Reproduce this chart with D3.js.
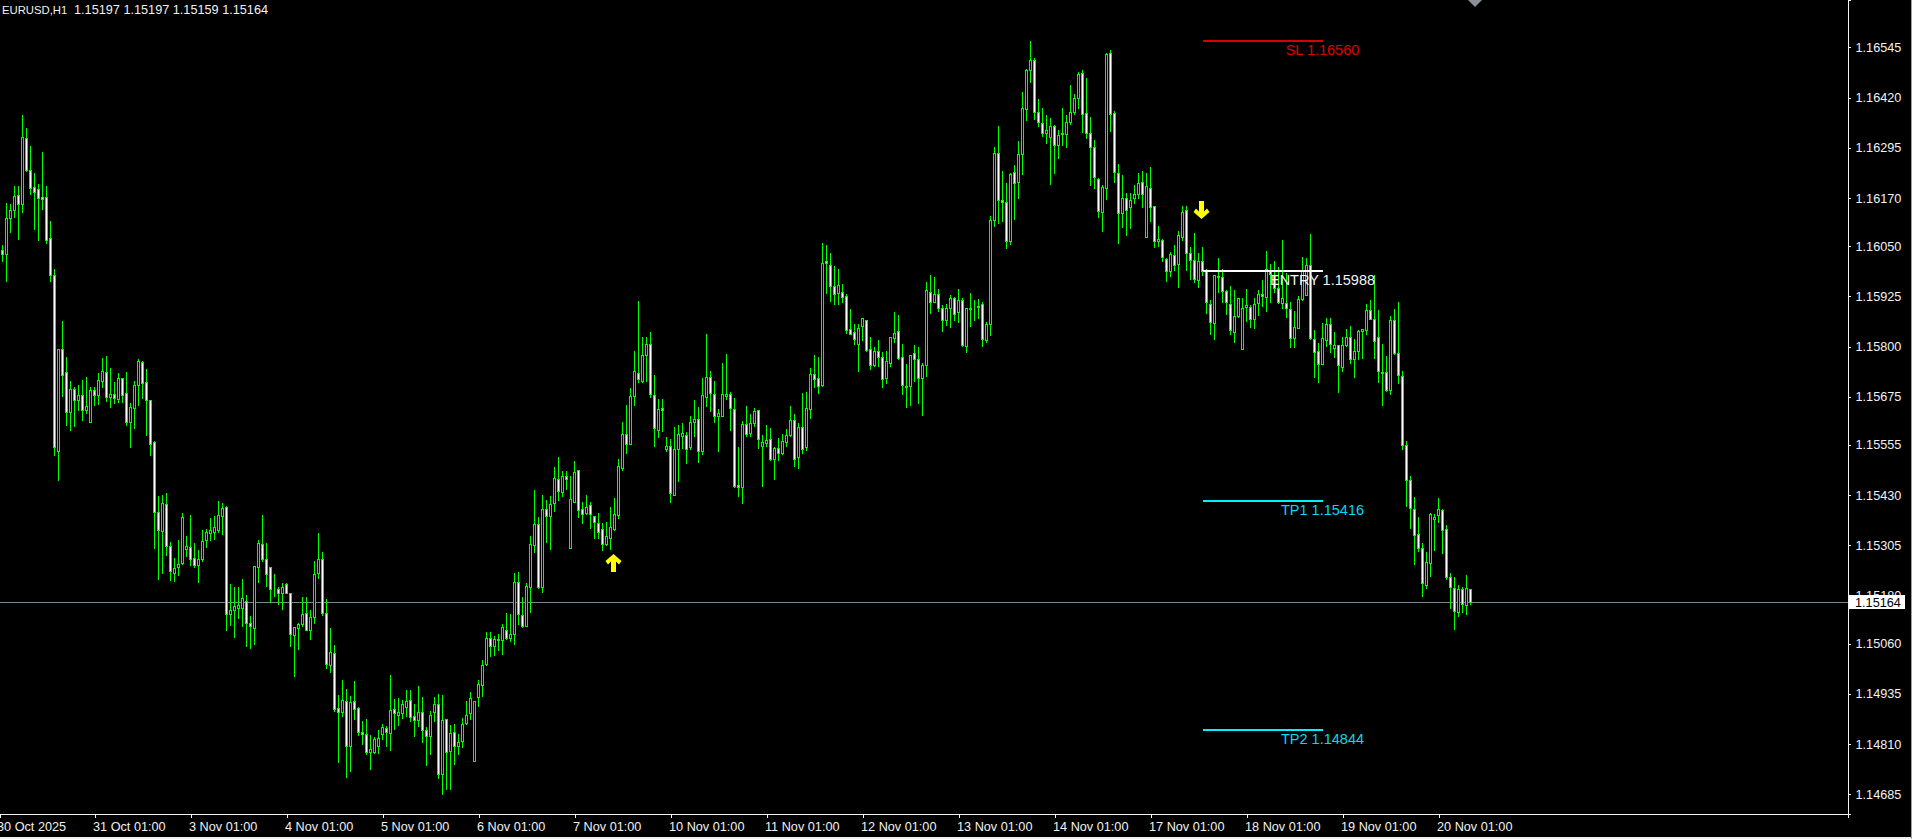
<!DOCTYPE html>
<html>
<head>
<meta charset="utf-8">
<title>EURUSD,H1</title>
<script src="https://cdn.jsdelivr.net/npm/d3@7/dist/d3.min.js"></script>
<style>
	html, body { margin: 0; padding: 0; background: #000; overflow: hidden; }
	svg { display: block; }
	text { font-family: "Liberation Sans", Arial, sans-serif; }
	.axis text { fill: #f2f2f2; font-size: 12.7px; }
	.axis path, .axis line { stroke: #f2f2f2; shape-rendering: crispEdges; }
</style>
</head>
<body>
<svg id="chart" width="1912" height="839"></svg>
<script>
const opens = [
	1.16040,1.16030,1.16121,1.16139,1.16177,1.16156,1.16319,1.16239,1.16197,1.16192,
	1.16172,1.16172,1.16070,1.15977,1.15541,1.15793,1.15736,1.15638,1.15694,1.15666,
	1.15679,1.15643,1.15613,1.15691,1.15680,1.15715,1.15736,1.15675,1.15681,1.15670,
	1.15721,1.15684,1.15612,1.15647,1.15705,1.15761,1.15711,1.15666,1.15562,1.15387,
	1.15340,1.15407,1.15303,1.15237,1.15250,1.15260,1.15295,1.15300,1.15273,1.15257,
	1.15272,1.15319,1.15336,1.15339,1.15343,1.15377,1.15400,1.15133,1.15145,1.15150,
	1.15149,1.15166,1.15111,1.15100,1.15250,1.15308,1.15272,1.15250,1.15195,1.15196,
	1.15187,1.15208,1.15186,1.15081,1.15098,1.15110,1.15136,1.15093,1.15127,1.15235,
	1.15270,1.15137,1.15008,1.15036,1.14899,1.14891,1.14917,1.14805,1.14917,1.14900,
	1.14839,1.14836,1.14791,1.14791,1.14806,1.14836,1.14849,1.14837,1.14897,1.14883,
	1.14888,1.14903,1.14919,1.14879,1.14869,1.14889,1.14844,1.14831,1.14889,1.14909,
	1.14735,1.14872,1.14792,1.14839,1.14805,1.14817,1.14862,1.14887,1.14767,1.14928,
	1.14957,1.15009,1.15074,1.15053,1.15070,1.15069,1.15095,1.15073,1.15084,1.15213,
	1.15132,1.15103,1.15201,1.15305,1.15357,1.15201,1.15395,1.15377,1.15410,1.15470,
	1.15438,1.15478,1.15297,1.15412,1.15493,1.15395,1.15385,1.15405,1.15378,1.15360,
	1.15345,1.15307,1.15324,1.15345,1.15381,1.15498,1.15582,1.15558,1.15676,1.15734,
	1.15715,1.15778,1.15806,1.15679,1.15591,1.15646,1.15546,1.15552,1.15431,1.15546,
	1.15578,1.15579,1.15549,1.15611,1.15619,1.15540,1.15674,1.15724,1.15681,1.15626,
	1.15628,1.15678,1.15681,1.15644,1.15455,1.15451,1.15607,1.15584,1.15610,1.15641,
	1.15553,1.15560,1.15569,1.15521,1.15547,1.15534,1.15563,1.15580,1.15617,1.15524,
	1.15599,1.15550,1.15645,1.15731,1.15721,1.15704,1.16012,1.16004,1.15950,1.15934,
	1.15935,1.15925,1.15843,1.15835,1.15807,1.15852,1.15865,1.15793,1.15754,1.15789,
	1.15773,1.15721,1.15760,1.15822,1.15838,1.15773,1.15700,1.15702,1.15783,1.15770,
	1.15721,1.15755,1.15937,1.15911,1.15932,1.15895,1.15865,1.15897,1.15920,1.15887,
	1.15917,1.15802,1.15894,1.15896,1.15899,1.15905,1.15816,1.15855,1.16114,1.16281,
	1.16166,1.16159,1.16064,1.16234,1.16209,1.16279,1.16391,1.16488,1.16513,1.16383,
	1.16356,1.16331,1.16321,1.16348,1.16301,1.16333,1.16330,1.16358,1.16383,1.16418,
	1.16480,1.16381,1.16331,1.16296,1.16216,1.16134,1.16196,1.16530,1.16381,1.16231,
	1.16132,1.16169,1.16147,1.16171,1.16181,1.16209,1.16072,1.16196,1.16149,1.16064,
	1.16065,1.16018,1.15987,1.16027,1.16005,1.16073,1.16139,1.16032,1.16015,1.15965,
	1.16012,1.15989,1.15907,1.15858,1.15972,1.15974,1.15939,1.15907,1.15835,1.15876,
	1.15795,1.15899,1.15899,1.15869,1.15908,1.15932,1.15924,1.15990,1.15978,1.15945,
	1.15909,1.15909,1.15893,1.15820,1.15847,1.15919,1.15928,1.16002,1.15818,1.15790,
	1.15757,1.15817,1.15855,1.15797,1.15803,1.15748,1.15803,1.15823,1.15768,1.15788,
	1.15838,1.15842,1.15890,1.15869,1.15823,1.15733,1.15737,1.15691,1.15865,1.15783,
	1.15726,1.15554,1.15467,1.15395,1.15333,1.15298,1.15207,1.15260,1.15370,1.15380,
	1.15392,1.15345,1.15226,1.15198,1.15138,1.15196,1.15156,1.15197
];
const highs = [
	1.16053,1.16157,1.16155,1.16200,1.16200,1.16377,1.16343,1.16299,1.16232,1.16205,
	1.16285,1.16200,1.16113,1.15993,1.15793,1.15864,1.15774,1.15715,1.15700,1.15705,
	1.15717,1.15724,1.15700,1.15700,1.15734,1.15772,1.15777,1.15747,1.15712,1.15734,
	1.15722,1.15737,1.15660,1.15714,1.15769,1.15764,1.15744,1.15667,1.15565,1.15428,
	1.15431,1.15435,1.15314,1.15274,1.15319,1.15386,1.15329,1.15381,1.15311,1.15294,
	1.15343,1.15346,1.15373,1.15378,1.15416,1.15411,1.15402,1.15209,1.15201,1.15201,
	1.15222,1.15182,1.15129,1.15253,1.15318,1.15381,1.15310,1.15250,1.15234,1.15201,
	1.15210,1.15210,1.15186,1.15101,1.15111,1.15176,1.15176,1.15143,1.15266,1.15336,
	1.15289,1.15171,1.15099,1.15057,1.14932,1.14970,1.14947,1.14930,1.14966,1.14902,
	1.14868,1.14873,1.14833,1.14827,1.14845,1.14860,1.14855,1.14982,1.14922,1.14925,
	1.14920,1.14944,1.14945,1.14910,1.14955,1.14927,1.14852,1.14893,1.14927,1.14935,
	1.14932,1.14873,1.14858,1.14860,1.14835,1.14875,1.14918,1.14940,1.14918,1.14969,
	1.15020,1.15089,1.15089,1.15079,1.15084,1.15109,1.15137,1.15134,1.15235,1.15239,
	1.15176,1.15211,1.15328,1.15443,1.15375,1.15431,1.15418,1.15428,1.15500,1.15525,
	1.15490,1.15490,1.15478,1.15515,1.15493,1.15413,1.15431,1.15413,1.15378,1.15386,
	1.15361,1.15363,1.15401,1.15423,1.15520,1.15612,1.15655,1.15697,1.15789,1.15914,
	1.15824,1.15824,1.15837,1.15729,1.15669,1.15669,1.15575,1.15570,1.15600,1.15605,
	1.15609,1.15587,1.15627,1.15667,1.15650,1.15722,1.15831,1.15739,1.15714,1.15645,
	1.15759,1.15782,1.15687,1.15672,1.15550,1.15615,1.15652,1.15632,1.15647,1.15641,
	1.15580,1.15605,1.15597,1.15549,1.15573,1.15583,1.15595,1.15652,1.15632,1.15609,
	1.15683,1.15687,1.15746,1.15778,1.15774,1.16057,1.16053,1.16033,1.16000,1.15993,
	1.15955,1.15930,1.15893,1.15856,1.15856,1.15872,1.15867,1.15823,1.15798,1.15816,
	1.15786,1.15789,1.15823,1.15886,1.15878,1.15806,1.15756,1.15780,1.15804,1.15799,
	1.15758,1.15960,1.15978,1.15973,1.15943,1.15903,1.15907,1.15928,1.15923,1.15943,
	1.15920,1.15897,1.15933,1.15916,1.15918,1.15911,1.15860,1.16125,1.16297,1.16349,
	1.16237,1.16207,1.16231,1.16252,1.16312,1.16434,1.16490,1.16561,1.16518,1.16416,
	1.16394,1.16376,1.16369,1.16352,1.16339,1.16394,1.16376,1.16451,1.16430,1.16483,
	1.16488,1.16468,1.16371,1.16314,1.16219,1.16202,1.16531,1.16538,1.16386,1.16254,
	1.16227,1.16182,1.16182,1.16202,1.16232,1.16237,1.16232,1.16247,1.16149,1.16100,
	1.16068,1.16020,1.16035,1.16053,1.16088,1.16149,1.16149,1.16047,1.16083,1.16033,
	1.16047,1.15993,1.15916,1.15977,1.16020,1.15992,1.15941,1.15951,1.15940,1.15921,
	1.15920,1.15943,1.15903,1.15920,1.15941,1.15966,1.16038,1.16005,1.16013,1.15998,
	1.16065,1.15982,1.15911,1.15888,1.15927,1.16023,1.16020,1.16080,1.15841,1.15808,
	1.15859,1.15871,1.15871,1.15836,1.15804,1.15824,1.15844,1.15850,1.15819,1.15841,
	1.15843,1.15907,1.15916,1.15978,1.15891,1.15806,1.15776,1.15876,1.15893,1.15911,
	1.15739,1.15565,1.15478,1.15425,1.15376,1.15310,1.15289,1.15385,1.15383,1.15423,
	1.15395,1.15356,1.15236,1.15227,1.15206,1.15201,1.15231,1.15197
];
const lows = [
	1.16013,1.15962,1.16086,1.16123,1.16069,1.16136,1.16236,1.16181,1.16093,1.16066,
	1.16143,1.16059,1.15962,1.15530,1.15468,1.15677,1.15605,1.15592,1.15602,1.15642,
	1.15617,1.15634,1.15613,1.15655,1.15657,1.15700,1.15665,1.15650,1.15660,1.15662,
	1.15662,1.15605,1.15550,1.15597,1.15655,1.15672,1.15580,1.15530,1.15299,1.15221,
	1.15236,1.15281,1.15219,1.15215,1.15230,1.15259,1.15279,1.15255,1.15252,1.15214,
	1.15266,1.15301,1.15319,1.15321,1.15339,1.15334,1.15094,1.15107,1.15077,1.15124,
	1.15103,1.15055,1.15050,1.15059,1.15214,1.15266,1.15204,1.15164,1.15179,1.15159,
	1.15147,1.15185,1.15054,1.14980,1.15047,1.15103,1.15093,1.15072,1.15111,1.15224,
	1.15132,1.15000,1.14990,1.14892,1.14766,1.14880,1.14728,1.14743,1.14873,1.14833,
	1.14810,1.14786,1.14748,1.14788,1.14788,1.14823,1.14805,1.14795,1.14848,1.14858,
	1.14875,1.14880,1.14868,1.14830,1.14855,1.14815,1.14758,1.14786,1.14868,1.14726,
	1.14686,1.14698,1.14698,1.14761,1.14786,1.14803,1.14860,1.14873,1.14767,1.14905,
	1.14930,1.15008,1.15030,1.15032,1.15044,1.15035,1.15072,1.15066,1.15059,1.15109,
	1.15102,1.15103,1.15139,1.15289,1.15198,1.15189,1.15314,1.15296,1.15391,1.15418,
	1.15428,1.15446,1.15297,1.15412,1.15376,1.15361,1.15383,1.15348,1.15324,1.15324,
	1.15294,1.15306,1.15296,1.15343,1.15373,1.15493,1.15535,1.15558,1.15655,1.15712,
	1.15712,1.15715,1.15675,1.15553,1.15575,1.15590,1.15540,1.15413,1.15431,1.15466,
	1.15548,1.15510,1.15545,1.15578,1.15513,1.15533,1.15652,1.15640,1.15612,1.15540,
	1.15628,1.15670,1.15592,1.15451,1.15428,1.15411,1.15578,1.15578,1.15602,1.15548,
	1.15453,1.15553,1.15518,1.15470,1.15518,1.15533,1.15553,1.15578,1.15503,1.15498,
	1.15534,1.15542,1.15623,1.15700,1.15685,1.15702,1.15934,1.15913,1.15906,1.15906,
	1.15911,1.15833,1.15831,1.15806,1.15739,1.15816,1.15789,1.15744,1.15751,1.15751,
	1.15699,1.15708,1.15751,1.15811,1.15769,1.15682,1.15649,1.15654,1.15714,1.15659,
	1.15629,1.15726,1.15883,1.15911,1.15889,1.15838,1.15853,1.15848,1.15866,1.15861,
	1.15801,1.15786,1.15851,1.15866,1.15872,1.15801,1.15811,1.15828,1.16100,1.16108,
	1.16113,1.16045,1.16055,1.16117,1.16170,1.16230,1.16364,1.16459,1.16366,1.16349,
	1.16324,1.16307,1.16205,1.16232,1.16269,1.16302,1.16297,1.16354,1.16379,1.16394,
	1.16334,1.16319,1.16202,1.16196,1.16122,1.16088,1.16167,1.16337,1.16210,1.16058,
	1.16098,1.16078,1.16095,1.16157,1.16170,1.16147,1.16072,1.16113,1.16048,1.16050,
	1.16013,1.15963,1.15976,1.15990,1.15948,1.16065,1.15990,1.15968,1.15961,1.15948,
	1.15978,1.15883,1.15831,1.15819,1.15936,1.15911,1.15881,1.15831,1.15811,1.15873,
	1.15795,1.15864,1.15849,1.15846,1.15878,1.15901,1.15888,1.15912,1.15937,1.15908,
	1.15896,1.15873,1.15798,1.15799,1.15846,1.15917,1.15928,1.15818,1.15724,1.15712,
	1.15756,1.15801,1.15786,1.15774,1.15687,1.15739,1.15801,1.15759,1.15724,1.15769,
	1.15771,1.15831,1.15868,1.15771,1.15712,1.15654,1.15688,1.15682,1.15781,1.15709,
	1.15544,1.15403,1.15348,1.15259,1.15291,1.15179,1.15199,1.15229,1.15294,1.15363,
	1.15286,1.15221,1.15149,1.15097,1.15129,1.15139,1.15134,1.15159
];
const closes = [
	1.16031,1.16119,1.16139,1.16174,1.16156,1.16321,1.16240,1.16196,1.16184,1.16171,
	1.16167,1.16066,1.15977,1.15551,1.15793,1.15730,1.15636,1.15694,1.15666,1.15679,
	1.15641,1.15651,1.15691,1.15680,1.15716,1.15739,1.15675,1.15681,1.15673,1.15721,
	1.15680,1.15612,1.15649,1.15704,1.15763,1.15710,1.15667,1.15558,1.15389,1.15342,
	1.15410,1.15302,1.15240,1.15248,1.15258,1.15376,1.15303,1.15272,1.15256,1.15270,
	1.15315,1.15338,1.15343,1.15351,1.15380,1.15397,1.15134,1.15144,1.15154,1.15156,
	1.15174,1.15111,1.15103,1.15253,1.15310,1.15272,1.15233,1.15196,1.15196,1.15186,
	1.15200,1.15186,1.15083,1.15101,1.15108,1.15133,1.15095,1.15126,1.15233,1.15270,
	1.15137,1.15010,1.15039,1.14898,1.14891,1.14919,1.14806,1.14914,1.14897,1.14839,
	1.14835,1.14791,1.14797,1.14823,1.14824,1.14852,1.14839,1.14894,1.14887,1.14889,
	1.14909,1.14917,1.14878,1.14869,1.14889,1.14844,1.14831,1.14882,1.14909,1.14735,
	1.14869,1.14790,1.14837,1.14805,1.14815,1.14859,1.14882,1.14924,1.14917,1.14959,
	1.15006,1.15074,1.15054,1.15071,1.15071,1.15101,1.15074,1.15084,1.15213,1.15133,
	1.15104,1.15203,1.15308,1.15357,1.15201,1.15395,1.15378,1.15407,1.15472,1.15439,
	1.15477,1.15470,1.15420,1.15487,1.15393,1.15382,1.15400,1.15382,1.15364,1.15339,
	1.15309,1.15328,1.15350,1.15383,1.15502,1.15582,1.15556,1.15676,1.15739,1.15718,
	1.15778,1.15806,1.15682,1.15597,1.15644,1.15641,1.15552,1.15434,1.15544,1.15582,
	1.15584,1.15546,1.15612,1.15619,1.15539,1.15679,1.15724,1.15683,1.15626,1.15634,
	1.15681,1.15681,1.15646,1.15453,1.15449,1.15607,1.15583,1.15609,1.15639,1.15569,
	1.15562,1.15567,1.15520,1.15547,1.15534,1.15564,1.15579,1.15617,1.15521,1.15599,
	1.15546,1.15648,1.15731,1.15718,1.15702,1.16009,1.16007,1.15950,1.15931,1.15952,
	1.15924,1.15842,1.15832,1.15818,1.15845,1.15870,1.15792,1.15753,1.15790,1.15774,
	1.15720,1.15763,1.15823,1.15833,1.15771,1.15703,1.15701,1.15780,1.15768,1.15721,
	1.15755,1.15940,1.15912,1.15932,1.15895,1.15867,1.15897,1.15920,1.15882,1.15915,
	1.15803,1.15895,1.15896,1.15897,1.15901,1.15819,1.15857,1.16114,1.16283,1.16166,
	1.16159,1.16064,1.16229,1.16206,1.16279,1.16393,1.16488,1.16513,1.16383,1.16358,
	1.16331,1.16338,1.16348,1.16303,1.16328,1.16330,1.16358,1.16383,1.16420,1.16478,
	1.16378,1.16331,1.16298,1.16221,1.16137,1.16197,1.16528,1.16378,1.16234,1.16132,
	1.16169,1.16139,1.16164,1.16179,1.16206,1.16179,1.16201,1.16147,1.16064,1.16068,
	1.16022,1.15987,1.16030,1.16002,1.16077,1.16134,1.16032,1.16015,1.15967,1.16012,
	1.15988,1.15912,1.15860,1.15977,1.15976,1.15938,1.15910,1.15840,1.15877,1.15920,
	1.15895,1.15903,1.15869,1.15907,1.15930,1.15925,1.15994,1.15980,1.15945,1.15910,
	1.15920,1.15895,1.15820,1.15848,1.15919,1.15989,1.16002,1.15820,1.15787,1.15756,
	1.15820,1.15855,1.15807,1.15803,1.15753,1.15803,1.15823,1.15768,1.15788,1.15838,
	1.15843,1.15890,1.15869,1.15813,1.15738,1.15737,1.15691,1.15865,1.15783,1.15728,
	1.15554,1.15467,1.15397,1.15330,1.15298,1.15210,1.15263,1.15383,1.15375,1.15395,
	1.15343,1.15227,1.15201,1.15141,1.15196,1.15158,1.15198,1.15164
];

const priceTicks = [ 1.16545, 1.16420, 1.16295, 1.16170, 1.16050, 1.15925, 1.15800, 1.15675, 1.15555, 1.15430, 1.15305, 1.15180, 1.15060, 1.14935, 1.14810, 1.14685 ];
const timeTickIndex = [ -1, 23, 47, 71, 95, 119, 143, 167, 191, 215, 239, 263, 287, 311, 335, 359 ];
const timeLabels = [ '30 Oct 2025', '31 Oct 01:00', '3 Nov 01:00', '4 Nov 01:00', '5 Nov 01:00', '6 Nov 01:00', '7 Nov 01:00', '10 Nov 01:00', '11 Nov 01:00', '12 Nov 01:00', '13 Nov 01:00', '14 Nov 01:00', '17 Nov 01:00', '18 Nov 01:00', '19 Nov 01:00', '20 Nov 01:00' ];

const levelNames = [ 'SL', 'ENTRY', 'TP1', 'TP2' ];
const levelPrices = [ 1.16560, 1.15988, 1.15416, 1.14844 ];
const levelLineColors = [ '#d80000', '#ffffff', '#00f0ff', '#00f0ff' ];
const levelTextColors = [ '#e00000', '#f4f4f4', '#00dcf0', '#00dcf0' ];
const levelStart = 300;
const levelEnd = 330;

const signalIndex = [ 153, 300 ];
const signalPrices = [ 1.15261, 1.16140 ];
const signalDirection = [ 1, -1 ];

const symbolName = 'EURUSD,H1';
const symbolQuote = '1.15197 1.15197 1.15159 1.15164';
const lastPrice = 1.15164;

const ChartView = {
	width: 1847.5, height: 813.5,
	xScale: null, yScale: null,
	svg: null,

	init: function() {
		const self = this;

		self.svg = d3.select('#chart');
		self.xScale = d3.scaleLinear()
			.domain([ -0.625, 461.25 ])
			.range([ 0, self.width ]);
		self.yScale = d3.scaleLinear()
			.domain([ 1.16663, 1.14637 ])
			.range([ 0, self.height ]);

		self.svg.append('rect')
			.attr('width', 1912)
			.attr('height', 839)
			.style('fill', '#000');
		self.drawFrame();
		self.drawAxes();
		self.drawLastPriceLine();
		self.drawCandles();
		self.drawLevels();
		self.drawSignals();
		self.drawLastPriceLabel();
	},

	// helpers

	snap: function(y) {
		return Math.round(y) + 0.5;
	},

	drawFrame: function() {
		const self = this;

		// window edge of the terminal
		self.svg.append('rect')
			.attr('y', 837)
			.attr('width', 1912)
			.attr('height', 2)
			.style('fill', '#f0f0f0');
		self.svg.append('rect')
			.attr('x', 1911)
			.attr('width', 1)
			.attr('height', 839)
			.style('fill', '#a0a0a0');

		self.svg.append('text')
			.attr('x', 2)
			.attr('y', 14)
			.style('fill', '#f2f2f2')
			.style('font-size', '11.3px')
			.text(symbolName);
		self.svg.append('text')
			.attr('x', 74)
			.attr('y', 14)
			.style('fill', '#f2f2f2')
			.style('font-size', '12.7px')
			.text(symbolQuote);

		// shift marker at the right of the last bar
		let markerX = Math.round(self.xScale(368));
		self.svg.append('path')
			.attr('d', 'M' + (markerX - 7) + ',0L' + (markerX + 7) + ',0L' + markerX + ',7Z')
			.style('fill', '#8a9099');
	},
	drawAxes: function() {
		const self = this;
		let xScale = self.xScale;
		let yScale = self.yScale;

		let xAxis = self.svg.append('g')
			.attr('class', 'axis')
			.attr('transform', 'translate(0,' + self.height + ')')
			.call(d3.axisBottom(xScale)
				.tickValues(timeTickIndex)
				.tickFormat(function(d, i) { return timeLabels[i]; })
				.tickSizeOuter(0)
				.tickSize(4));
		xAxis.selectAll('text')
			.attr('x', -2)
			.attr('y', 5)
			.attr('dy', '0.95em')
			.style('text-anchor', 'start');

		self.svg.append('g')
			.attr('class', 'axis')
			.attr('transform', 'translate(' + self.width + ',0)')
			.call(d3.axisRight(yScale)
				.tickValues(priceTicks)
				.tickFormat(d3.format('.5f'))
				.tickSizeOuter(0)
				.tickSize(3)
				.tickPadding(5));
	},
	drawLastPriceLine: function() {
		const self = this;
		let y = self.snap(self.yScale(lastPrice));

		self.svg.append('line')
			.attr('x1', 0)
			.attr('x2', self.width)
			.attr('y1', y)
			.attr('y2', y)
			.style('stroke', '#778899')
			.style('shape-rendering', 'crispEdges');
	},
	drawCandles: function() {
		const self = this;
		let xScale = self.xScale;
		let yScale = self.yScale;
		let snap = self.snap;
		let candles = self.svg.append('g')
			.style('shape-rendering', 'crispEdges')
			.selectAll('g')
			.data(opens)
			.enter().append('g');

		candles.append('line')
			.attr('x1', function(d, i) { return xScale(i); })
			.attr('x2', function(d, i) { return xScale(i); })
			.attr('y1', function(d, i) { return Math.round(yScale(highs[i])); })
			.attr('y2', function(d, i) { return Math.round(yScale(lows[i])) + 1; })
			.style('stroke', '#00ff00');

		candles.append('rect')
			.attr('x', function(d, i) { return xScale(i) - 1; })
			.attr('width', 2)
			.attr('y', function(d, i) { return snap(yScale(Math.max(d, closes[i]))); })
			.attr('height', function(d, i) {
				return snap(yScale(Math.min(d, closes[i]))) - snap(yScale(Math.max(d, closes[i])));
			})
			.style('fill', function(d, i) { return closes[i] < d ? '#fff' : '#000'; })
			.style('stroke', '#00ff00');
	},
	drawLevels: function() {
		const self = this;
		let xScale = self.xScale;
		let yScale = self.yScale;

		self.svg.append('g').selectAll('rect')
			.data(levelPrices)
			.enter().append('rect')
			.attr('x', xScale(levelStart))
			.attr('width', xScale(levelEnd) - xScale(levelStart))
			.attr('y', function(d) { return Math.round(yScale(d)) - 1; })
			.attr('height', 2)
			.style('fill', function(d, i) { return levelLineColors[i]; })
			.style('shape-rendering', 'crispEdges');

		self.svg.append('g').selectAll('text')
			.data(levelPrices)
			.enter().append('text')
			.attr('x', xScale(levelEnd))
			.attr('y', function(d) { return yScale(d) + 9; })
			.attr('dy', '0.35em')
			.style('text-anchor', 'middle')
			.style('font-size', '14.5px')
			.style('fill', function(d, i) { return levelTextColors[i]; })
			.text(function(d, i) { return levelNames[i] + ' ' + d3.format('.5f')(d); });
	},
	drawSignals: function() {
		const self = this;
		let xScale = self.xScale;
		let yScale = self.yScale;
		let arrow = [ [ 0, -9 ], [ 8, -2 ], [ 5.5, 1.5 ], [ 2.5, -1.5 ], [ 2.5, 9 ], [ -2.5, 9 ], [ -2.5, -1.5 ], [ -5.5, 1.5 ], [ -8, -2 ] ];

		self.svg.append('g').selectAll('path')
			.data(signalPrices)
			.enter().append('path')
			.attr('d', d3.line()(arrow) + 'Z')
			.attr('transform', function(d, i) {
				return 'translate(' + (xScale(signalIndex[i]) - 1) + ',' + yScale(d) + ') scale(1,' + signalDirection[i] + ')';
			})
			.style('fill', '#ffff00');
	},
	drawLastPriceLabel: function() {
		const self = this;
		let y = self.yScale(lastPrice);
		let label = self.svg.append('g')
			.attr('transform', 'translate(' + (self.width + 1.5) + ',' + Math.round(y) + ')');

		label.append('rect')
			.attr('y', -7)
			.attr('width', 56)
			.attr('height', 14)
			.style('fill', '#fff');
		label.append('text')
			.attr('x', 6)
			.attr('dy', '0.36em')
			.style('fill', '#000')
			.style('font-size', '12.7px')
			.text(d3.format('.5f')(lastPrice));
	}
};

ChartView.init();
</script>
</body>
</html>
